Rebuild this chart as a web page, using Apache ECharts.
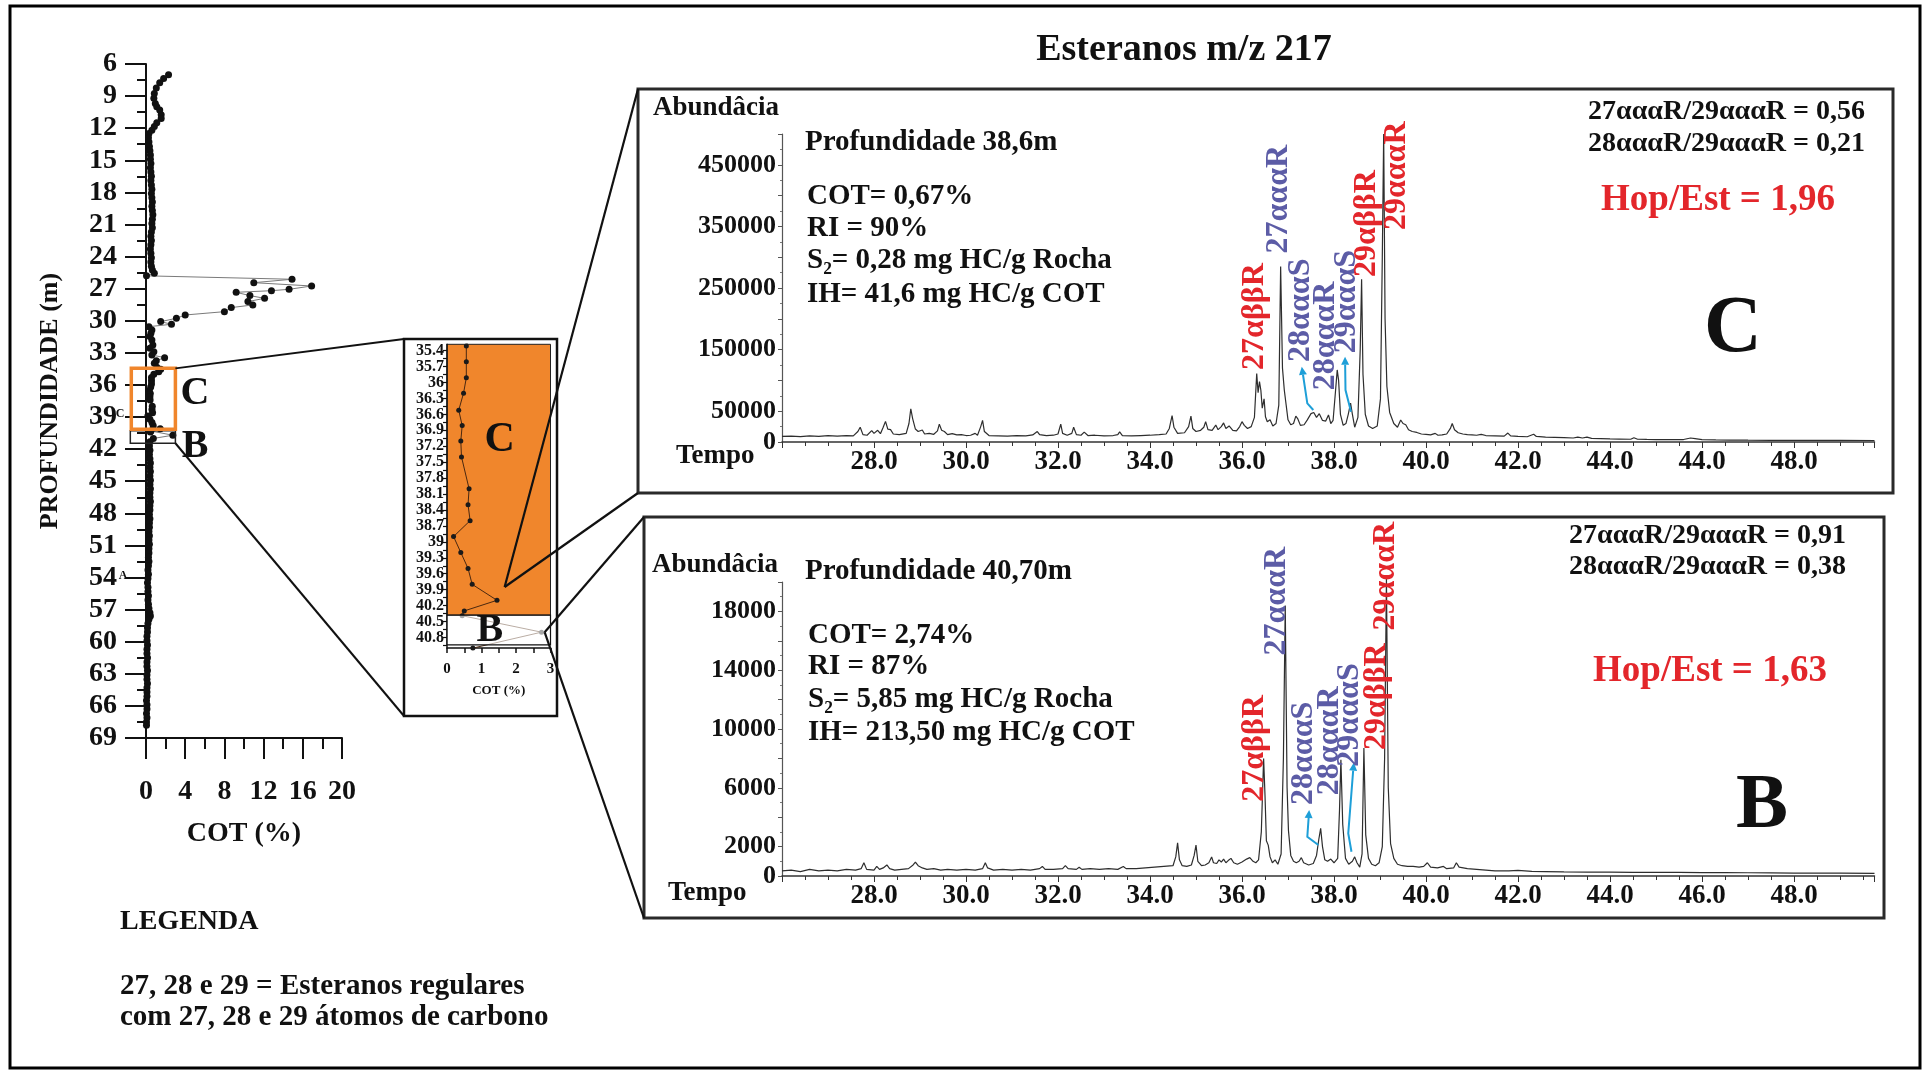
<!DOCTYPE html>
<html>
<head>
<meta charset="utf-8">
<script src="https://cdn.jsdelivr.net/npm/echarts@6/dist/echarts.min.js"></script>
<style>
  html, body { margin: 0; padding: 0; background: #fff; }
  #chart { width: 1927px; height: 1072px; }
</style>
</head>
<body>
<div id="chart"></div>
<script>
// ---------- well profile: total organic carbon vs depth ----------
const profileDepth = [
  7.0, 7.35, 7.75, 8.25, 8.75, 9.2, 9.7, 10.0, 10.3, 10.75, 11.1, 11.5, 11.85, 12.2,
  12.5, 12.9, 13.3, 13.7, 14.1, 14.5, 14.9, 15.3, 15.7, 16.1, 16.5, 16.9, 17.3, 17.7,
  18.1, 18.5, 18.9, 19.3, 19.7, 20.1, 20.5, 20.9, 21.3, 21.7, 22.1, 22.5, 22.9, 23.3,
  23.7, 24.1, 24.5, 24.9, 25.25, 25.55, 25.8,
  26.12, 26.44, 26.75, 27.06, 27.19, 27.34, 27.65, 27.9, 28.21, 28.52, 28.77, 29.15,
  29.46, 29.77, 30.08, 30.33,
  30.55, 30.86, 31.17, 31.48, 31.8, 32.26, 32.57, 32.9, 33.2, 33.45, 33.73, 33.98,
  34.35, 34.53, 34.76, 35.0,
  35.31, 35.61, 35.91, 36.2, 36.52, 36.81, 37.1, 37.4, 38.0, 38.3, 38.6, 38.9, 39.2,
  39.5, 39.8, 40.1, 40.3, 40.39, 40.7, 41.0,
  41.3, 41.7, 42.1, 42.5, 42.9, 43.3, 43.7, 44.1, 44.5, 44.9, 45.3, 45.7, 46.1, 46.5,
  46.9, 47.3, 47.7, 48.1, 48.5, 48.9, 49.3, 49.7, 50.1, 50.5, 50.9, 51.3, 51.7, 52.1,
  52.5, 52.9, 53.3, 53.7, 54.1, 54.5, 54.9, 55.3, 55.7, 56.1, 56.5, 56.9, 57.3, 57.6,
  57.9, 58.3, 58.7, 59.1, 59.5, 59.9, 60.3, 60.7, 61.1, 61.5, 61.9, 62.3, 62.7, 63.1,
  63.5, 63.9, 64.3, 64.7, 65.1, 65.5, 65.9, 66.3, 66.7, 67.1, 67.5, 67.8
];
const profileCot = [
  2.3, 1.8, 1.4, 1.05, 0.85, 0.8, 0.95, 1.1, 1.4, 1.55, 1.55, 1.1, 0.85, 0.6,
  0.3, 0.25, 0.3, 0.35, 0.4, 0.45, 0.45, 0.5, 0.45, 0.5, 0.55, 0.5, 0.55, 0.6,
  0.55, 0.6, 0.65, 0.6, 0.65, 0.7, 0.65, 0.6, 0.65, 0.55, 0.5, 0.55, 0.5, 0.45,
  0.5, 0.55, 0.5, 0.55, 0.65, 0.85, 0.05,
  14.9, 11.0, 16.9, 14.6, 12.8, 9.2, 10.6, 12.1, 10.4, 10.9, 8.7, 8.0,
  4.0, 3.1, 1.5, 2.6,
  0.3, 0.6, 0.5, 0.4, 0.6, 0.7, 0.4, 0.8, 0.6, 1.9, 1.05, 0.85,
  1.1, 1.5, 1.3, 0.8,
  0.56, 0.56, 0.56, 0.48, 0.34, 0.44, 0.4, 0.42, 0.64, 0.61, 0.67, 0.19, 0.4,
  0.61, 0.73, 1.45, 0.5, 0.44, 2.74, 0.75,
  0.4, 0.35, 0.4, 0.35, 0.4, 0.45, 0.4, 0.45, 0.4, 0.45, 0.4, 0.45, 0.4, 0.4,
  0.45, 0.4, 0.4, 0.35, 0.4, 0.35, 0.35, 0.3, 0.35, 0.3, 0.35, 0.3, 0.3, 0.25,
  0.3, 0.25, 0.2, 0.25, 0.2, 0.15, 0.2, 0.2, 0.25, 0.2, 0.25, 0.3, 0.4, 0.45,
  0.3, 0.2, 0.15, 0.15, 0.1, 0.1, 0.15, 0.1, 0.1, 0.15, 0.1, 0.1, 0.15, 0.1,
  0.1, 0.15, 0.1, 0.1, 0.1, 0.05, 0.1, 0.1, 0.05, 0.1, 0.05, 0.05
];
const insetDepthLabels = [35.4, 35.7, 36, 36.3, 36.6, 36.9, 37.2, 37.5, 37.8, 38.1, 38.4,
  38.7, 39, 39.3, 39.6, 39.9, 40.2, 40.5, 40.8];
const insetDepthMinor = [35.55, 35.85, 36.15, 36.45, 36.75, 37.05, 37.35, 37.65, 37.95, 38.25,
  38.55, 38.85, 39.15, 39.45, 39.75, 40.05, 40.35, 40.65, 40.95];

// ---------- m/z 217 chromatograms ----------
const timeTicks = [28, 30, 32, 34, 36, 38, 40, 42, 44, 46, 48];
const timeLabelsC = ['28.0', '30.0', '32.0', '34.0', '36.0', '38.0', '40.0', '42.0', '44.0', '44.0', '48.0'];
const timeLabelsB = ['28.0', '30.0', '32.0', '34.0', '36.0', '38.0', '40.0', '42.0', '44.0', '46.0', '48.0'];
const abundanceLabelsC = [0, 50000, 150000, 250000, 350000, 450000];
const abundanceLabelsB = [0, 2000, 6000, 10000, 14000, 18000];

// sample C, 38.6 m  [retention time (min), abundance]
const chromC = [
  [26.0, 9000], [26.2, 9500], [26.4, 8800], [26.6, 9800], [26.8, 9200], [27.0, 10200],
  [27.2, 9500], [27.4, 10500], [27.55, 10000], [27.65, 17000], [27.7, 24000], [27.76, 12000],
  [27.85, 11000], [27.95, 18500], [28.0, 14000], [28.08, 19000], [28.14, 13500], [28.2, 24000],
  [28.25, 33500], [28.3, 21000], [28.36, 20000], [28.42, 13000], [28.55, 12000], [28.7, 14000],
  [28.76, 30000], [28.8, 54000], [28.84, 38000], [28.9, 21000], [28.96, 17000], [29.05, 19500],
  [29.1, 13000], [29.2, 14000], [29.3, 12500], [29.38, 18000], [29.42, 29000], [29.47, 19000],
  [29.53, 17000], [29.6, 12000], [29.7, 13500], [29.8, 11500], [29.9, 12000], [30.0, 10500],
  [30.1, 11000], [30.2, 14000], [30.25, 11000], [30.32, 25000], [30.36, 35000], [30.4, 17000],
  [30.5, 10500], [30.7, 10000], [30.9, 9500], [31.1, 10500], [31.3, 10000], [31.45, 11500],
  [31.55, 17000], [31.6, 12000], [31.75, 10500], [31.9, 11000], [32.0, 13000], [32.06, 29000],
  [32.1, 14000], [32.2, 11000], [32.3, 14000], [32.34, 24000], [32.4, 12000], [32.5, 11000],
  [32.57, 16000], [32.65, 10500], [32.8, 11000], [33.0, 10000], [33.2, 10500], [33.3, 12000],
  [33.34, 16500], [33.4, 10500], [33.6, 10000], [33.8, 10500], [34.0, 11000], [34.2, 12000],
  [34.35, 13000], [34.42, 22000], [34.48, 43000], [34.52, 24000], [34.6, 14000], [34.75, 15000],
  [34.84, 25000], [34.89, 42000], [34.93, 22000], [35.0, 17000], [35.1, 19000], [35.17, 24000],
  [35.21, 33000], [35.26, 20000], [35.35, 19000], [35.43, 27500], [35.48, 20000], [35.55, 25000],
  [35.6, 31000], [35.65, 22000], [35.72, 26000], [35.8, 19000], [35.88, 18000], [35.95, 25000],
  [36.0, 33000], [36.05, 27000], [36.12, 22000], [36.2, 25000], [36.27, 40000], [36.32, 111000],
  [36.35, 80000], [36.38, 98000], [36.41, 84000], [36.44, 55000], [36.48, 70000], [36.51, 41000],
  [36.55, 33000], [36.61, 36000], [36.67, 26000], [36.74, 30000], [36.8, 60000], [36.84, 285000],
  [36.88, 120000], [36.92, 84000], [36.96, 60000], [37.0, 36000], [37.06, 28000], [37.12, 30000],
  [37.17, 42000], [37.21, 38000], [37.27, 27000], [37.35, 28000], [37.42, 36000], [37.5, 46000],
  [37.56, 48000], [37.62, 40000], [37.68, 46000], [37.75, 35000], [37.82, 34000], [37.88, 44000],
  [37.93, 30000], [37.98, 35000], [38.03, 80000], [38.07, 117000], [38.1, 100000], [38.14, 45000],
  [38.2, 27000], [38.26, 30000], [38.31, 45000], [38.36, 63000], [38.4, 45000], [38.45, 24000],
  [38.52, 40000], [38.57, 150000], [38.6, 264000], [38.63, 110000], [38.68, 45000], [38.75, 26000],
  [38.84, 22000], [38.94, 26000], [39.01, 70000], [39.05, 300000], [39.08, 500000], [39.11, 200000],
  [39.15, 90000], [39.21, 48000], [39.3, 30000], [39.38, 24000], [39.45, 35700], [39.5, 30000],
  [39.56, 28000], [39.62, 20000], [39.7, 17000], [39.8, 15500], [39.9, 13000], [40.0, 12500],
  [40.1, 11500], [40.2, 14000], [40.26, 11000], [40.35, 11500], [40.45, 13000], [40.53, 22000],
  [40.57, 30000], [40.62, 20000], [40.7, 15000], [40.8, 13000], [40.9, 12000], [41.0, 11500],
  [41.1, 11000], [41.2, 12500], [41.3, 10500], [41.5, 10000], [41.7, 9500], [41.78, 14500],
  [41.84, 10000], [42.0, 9000], [42.2, 8500], [42.34, 12500], [42.4, 9000], [42.6, 8000],
  [42.8, 7500], [43.0, 7000], [43.2, 6500], [43.3, 8000], [43.4, 6500], [43.5, 8000],
  [43.6, 6000], [43.8, 5500], [44.0, 5000], [44.2, 4800], [44.45, 4500], [44.52, 7000],
  [44.6, 4500], [44.8, 4200], [45.0, 4000], [45.3, 3800], [45.6, 4000], [45.75, 6500],
  [45.85, 5500], [46.0, 4000], [46.3, 3500], [46.6, 3200], [47.0, 3000], [47.5, 2800],
  [48.0, 2700], [48.5, 2600], [49.0, 2500], [49.75, 2400]
];

// sample B, 40.70 m  [retention time (min), abundance]
const chromB = [
  [26.0, 350], [26.2, 400], [26.4, 300], [26.6, 450], [26.8, 350], [27.0, 400], [27.2, 350],
  [27.4, 450], [27.6, 400], [27.72, 500], [27.78, 900], [27.84, 450], [28.0, 400], [28.06, 650],
  [28.12, 450], [28.2, 550], [28.28, 750], [28.34, 500], [28.45, 400], [28.6, 450], [28.75, 500],
  [28.85, 750], [28.9, 950], [28.96, 700], [29.05, 550], [29.15, 450], [29.3, 500], [29.45, 400],
  [29.6, 450], [29.8, 400], [30.0, 450], [30.2, 400], [30.36, 500], [30.42, 900], [30.47, 550],
  [30.6, 400], [30.8, 450], [31.0, 400], [31.2, 450], [31.4, 400], [31.6, 500], [31.66, 650],
  [31.72, 450], [31.9, 450], [32.1, 500], [32.16, 700], [32.22, 500], [32.4, 450], [32.46, 600],
  [32.52, 450], [32.7, 500], [32.9, 450], [33.1, 500], [33.3, 450], [33.42, 650], [33.48, 500],
  [33.7, 500], [33.9, 550], [34.1, 600], [34.3, 650], [34.5, 700], [34.56, 1300], [34.6, 2250],
  [34.64, 1100], [34.7, 700], [34.8, 650], [34.9, 750], [34.96, 1400], [35.0, 2100], [35.04, 1000],
  [35.12, 700], [35.2, 750], [35.28, 900], [35.34, 1300], [35.38, 900], [35.45, 850], [35.5, 1100],
  [35.55, 950], [35.6, 1150], [35.65, 900], [35.7, 1050], [35.76, 1200], [35.82, 900], [35.9, 800],
  [36.0, 950], [36.1, 1150], [36.17, 1250], [36.24, 1000], [36.3, 900], [36.36, 1100], [36.42, 3000],
  [36.47, 8000], [36.5, 5500], [36.53, 2400], [36.57, 2100], [36.61, 1300], [36.66, 900],
  [36.72, 1100], [36.78, 800], [36.85, 1500], [36.9, 8000], [36.94, 18400], [36.98, 6000],
  [37.01, 3100], [37.06, 1400], [37.12, 1000], [37.18, 900], [37.24, 1000], [37.29, 1250],
  [37.34, 900], [37.45, 750], [37.55, 850], [37.62, 1400], [37.67, 2500], [37.71, 3240],
  [37.75, 2000], [37.8, 1100], [37.86, 1000], [37.93, 1150], [38.0, 900], [38.08, 1200],
  [38.12, 4500], [38.15, 7900], [38.19, 3500], [38.25, 1200], [38.32, 800], [38.4, 1000],
  [38.45, 1300], [38.5, 900], [38.56, 600], [38.61, 1500], [38.65, 8700], [38.69, 2800],
  [38.75, 1200], [38.82, 800], [38.9, 700], [38.98, 900], [39.05, 2000], [39.1, 8000],
  [39.14, 20200], [39.18, 6000], [39.23, 2200], [39.3, 1200], [39.38, 800], [39.48, 700],
  [39.6, 650], [39.72, 650], [39.85, 600], [39.95, 650], [40.03, 900], [40.1, 600], [40.25, 550],
  [40.38, 650], [40.45, 500], [40.6, 550], [40.66, 900], [40.72, 600], [40.9, 500], [41.1, 450],
  [41.3, 400], [41.5, 350], [41.8, 350], [42.0, 380], [42.3, 320], [42.6, 300], [43.0, 280],
  [43.5, 270], [44.0, 260], [44.5, 250], [45.0, 250], [45.5, 240], [46.0, 230], [46.5, 230],
  [47.0, 220], [47.5, 210], [48.0, 200], [48.5, 200], [49.0, 190], [49.75, 180]
];

// peak identifications
const peakNames = ['27αββR', '27αααR', '28αααS', '28αααR', '29αααS', '29αββR', '29αααR'];
const peakIsRed = [true, false, false, false, false, true, true];

// ---------- annotation layout (axis units) ----------
const labelFootC = [[36.28, 117000], [36.79, 306000], [37.28, 130000], [37.83, 84000],
  [38.28, 144000], [38.71, 268000], [39.36, 344000]];
const labelFootB = [[36.28, 5050], [36.76, 15000], [37.35, 4830], [37.9, 5500],
  [38.35, 7440], [38.93, 8570], [39.13, 16700]];
const arrowsC = [
  [[37.30, 122000], [37.42, 62800], [37.55, 52000]],
  [[38.24, 138500], [38.25, 84400], [38.37, 49200]]
];
const arrowsB = [
  [[37.46, 4490], [37.42, 2670], [37.66, 2110]],
  [[38.43, 7710], [38.31, 2900], [38.38, 1650]]
];

const SERIF = '"Liberation Serif", "Times New Roman", serif';
const bold = (s) => 'bold ' + s + 'px ' + SERIF;
const RED = '#e3262b';
const PURPLE = '#5c5ca6';
const CYAN = '#1e9fd8';
const ORANGE = '#f0862c';

const profileData = profileDepth.map((d, i) => [profileCot[i], d]);

const chart = echarts.init(document.getElementById('chart'), null, { renderer: 'canvas' });

const chromX = (labels) => ({
  type: 'value', min: 26, max: 49.75, interval: 2,
  axisLine: { lineStyle: { color: '#333', width: 1.5 } },
  axisTick: { length: 6, lineStyle: { color: '#333' } },
  minorTick: { show: true, splitNumber: 4, length: 4, lineStyle: { color: '#333' } },
  splitLine: { show: false },
  axisLabel: {
    margin: 7, color: '#111', fontWeight: 'bold', fontSize: 27, fontFamily: SERIF,
    showMaxLabel: false,
    formatter: (v) => { const i = timeTicks.indexOf(v); return i >= 0 ? labels[i] : ''; }
  }
});
const chromY = (max, step, shown) => ({
  type: 'value', min: 0, max: max, interval: step,
  axisLine: { show: true, lineStyle: { color: '#555', width: 1.2 } },
  axisTick: { show: true, length: 4, lineStyle: { color: '#555' } },
  minorTick: { show: true, splitNumber: 2, length: 2, lineStyle: { color: '#777' } },
  splitLine: { show: false },
  axisLabel: {
    margin: 6, color: '#111', fontWeight: 'bold', fontSize: 26, fontFamily: SERIF,
    formatter: (v) => shown.indexOf(v) >= 0 ? String(v) : ''
  }
});

chart.setOption({
  animation: false,
  backgroundColor: '#ffffff',
  grid: [
    { left: 146, top: 64, width: 196, height: 674 },
    { left: 447, top: 344.3, width: 103.5, height: 303.8 },
    { left: 782, top: 134, width: 1092.5, height: 308 },
    { left: 782, top: 582, width: 1092.5, height: 294 }
  ],
  xAxis: [
    {
      gridIndex: 0, type: 'value', min: 0, max: 20, interval: 4,
      name: 'COT (%)', nameLocation: 'middle', nameGap: 82,
      nameTextStyle: { color: '#111', fontWeight: 'bold', fontSize: 28, fontFamily: SERIF },
      axisLine: { lineStyle: { color: '#111', width: 2 } },
      axisTick: { length: 21, lineStyle: { color: '#111', width: 2 } },
      minorTick: { show: true, splitNumber: 2, length: 11, lineStyle: { color: '#111', width: 2 } },
      splitLine: { show: false },
      axisLabel: { margin: 40, color: '#111', fontWeight: 'bold', fontSize: 28, fontFamily: SERIF }
    },
    {
      gridIndex: 1, type: 'value', min: 0, max: 3, interval: 1,
      name: 'COT (%)', nameLocation: 'middle', nameGap: 36,
      nameTextStyle: { color: '#111', fontWeight: 'bold', fontSize: 13, fontFamily: SERIF },
      axisLine: { lineStyle: { color: '#111', width: 1.5 } },
      axisTick: { length: 5, lineStyle: { color: '#111', width: 1.5 } },
      minorTick: { show: true, splitNumber: 2, length: 5, lineStyle: { color: '#111', width: 1.5 } },
      splitLine: { show: false },
      axisLabel: { margin: 14, color: '#111', fontWeight: 'bold', fontSize: 15, fontFamily: SERIF }
    },
    Object.assign({ gridIndex: 2 }, chromX(timeLabelsC)),
    Object.assign({ gridIndex: 3 }, chromX(timeLabelsB))
  ],
  yAxis: [
    {
      gridIndex: 0, type: 'value', inverse: true, min: 6, max: 69, interval: 3,
      name: 'PROFUNDIDADE (m)', nameLocation: 'middle', nameGap: 83, nameRotate: 90,
      nameTextStyle: { color: '#111', fontWeight: 'bold', fontSize: 26, fontFamily: SERIF },
      axisLine: { lineStyle: { color: '#111', width: 2 } },
      axisTick: { length: 21, lineStyle: { color: '#111', width: 2 } },
      minorTick: { show: true, splitNumber: 2, length: 9, lineStyle: { color: '#111', width: 2 } },
      splitLine: { show: false },
      axisLabel: { margin: 29, color: '#111', fontWeight: 'bold', fontSize: 28, fontFamily: SERIF }
    },
    {
      gridIndex: 1, type: 'value', inverse: true, min: 35.28, max: 41.0,
      axisLine: { lineStyle: { color: '#111', width: 1.5 } },
      axisTick: { length: 4, customValues: insetDepthLabels.concat(insetDepthMinor), lineStyle: { color: '#111', width: 1.2 } },
      splitLine: { show: false },
      axisLabel: {
        customValues: insetDepthLabels, margin: 3, color: '#111',
        showMinLabel: true, showMaxLabel: true, hideOverlap: false,
        fontWeight: 'bold', fontSize: 16, lineHeight: 14, fontFamily: SERIF,
        formatter: (v) => String(Math.round(v * 10) / 10)
      }
    },
    Object.assign({ gridIndex: 2 }, chromY(500000, 50000, abundanceLabelsC)),
    Object.assign({ gridIndex: 3 }, chromY(20000, 2000, abundanceLabelsB))
  ],
  series: [
    {
      type: 'line', xAxisIndex: 0, yAxisIndex: 0, data: profileData,
      symbol: 'circle', symbolSize: 7, showSymbol: true, showAllSymbol: true,
      itemStyle: { color: '#111' }, lineStyle: { color: '#7a7a7a', width: 1 }, z: 3
    },
    {
      type: 'line', xAxisIndex: 1, yAxisIndex: 1, data: profileData, clip: true,
      symbol: 'circle', symbolSize: 5, showSymbol: true, showAllSymbol: true,
      itemStyle: { color: '#1a1a1a' }, lineStyle: { color: '#4a2810', width: 1 }, z: 3
    },
    {
      type: 'line', xAxisIndex: 2, yAxisIndex: 2, data: chromC, clip: false,
      symbol: 'none', lineStyle: { color: '#2e2e2e', width: 1.2 }, z: 3
    },
    {
      type: 'line', xAxisIndex: 3, yAxisIndex: 3, data: chromB, clip: false,
      symbol: 'none', lineStyle: { color: '#2e2e2e', width: 1.2 }, z: 3
    }
  ]
});

// ---------- annotations placed through the axes ----------
const px = (g, p) => chart.convertToPixel({ gridIndex: g }, p);

function text(str, x, y, size, o) {
  o = o || {};
  const align = o.align || 'left';
  const valign = o.valign || 'middle';
  return {
    type: 'text', x: x, y: y, rotation: o.rotation || 0, silent: true, z: o.z || 20,
    style: {
      text: str, x: 0, y: 0, font: bold(size), fill: o.color || '#111',
      align: align, verticalAlign: valign, textAlign: align, textVerticalAlign: valign
    }
  };
}
function rectFromData(g, a, b, style, z) {
  const p1 = px(g, a), p2 = px(g, b);
  return {
    type: 'rect', silent: true, z: z,
    shape: { x: Math.min(p1[0], p2[0]), y: Math.min(p1[1], p2[1]),
             width: Math.abs(p2[0] - p1[0]), height: Math.abs(p2[1] - p1[1]) },
    style: style
  };
}
function line(p1, p2, w, color) {
  return { type: 'line', silent: true, z: 15,
    shape: { x1: p1[0], y1: p1[1], x2: p2[0], y2: p2[1] },
    style: { stroke: color || '#111', lineWidth: w || 2 } };
}
function arrow(g, pts) {
  const p = pts.map((q) => px(g, q));
  const tip = p[0], from = p[1];
  const ang = Math.atan2(tip[1] - from[1], tip[0] - from[0]);
  const L = 8, W = 4;
  const bx = tip[0] - L * Math.cos(ang), by = tip[1] - L * Math.sin(ang);
  const nx = -Math.sin(ang) * W, ny = Math.cos(ang) * W;
  return [
    { type: 'polyline', silent: true, z: 16, shape: { points: [[bx, by]].concat(p.slice(1)) },
      style: { stroke: CYAN, lineWidth: 2, fill: 'none' } },
    { type: 'polygon', silent: true, z: 16,
      shape: { points: [tip, [bx + nx, by + ny], [bx - nx, by - ny]] },
      style: { fill: CYAN } }
  ];
}

const els = [];

// outer frame and title
els.push({ type: 'rect', silent: true, z: 1, shape: { x: 10, y: 6, width: 1910, height: 1062 },
  style: { fill: 'none', stroke: '#000', lineWidth: 3 } });
els.push(text('Esteranos m/z 217', 1184, 50, 38, { align: 'center' }));

// profile: highlighted intervals C and B
const cTL = px(0, [-1.5, 34.45]), cBR = px(0, [3.0, 40.15]);
const bTL = px(0, [-1.6, 40.27]), bBR = px(0, [3.0, 41.45]);
els.push(rectFromData(0, [-1.6, 40.27], [3.0, 41.45], { fill: 'none', stroke: '#222', lineWidth: 1.5 }, 12));
els.push(rectFromData(0, [-1.5, 34.45], [3.0, 40.15], { fill: 'none', stroke: ORANGE, lineWidth: 3.5 }, 13));
let p = px(0, [5.0, 36.85]); els.push(text('C', p[0], p[1], 40, { align: 'center' }));
p = px(0, [5.0, 41.8]); els.push(text('B', p[0], p[1], 40, { align: 'center' }));
els.push(text('C', 120, 414, 12, { align: 'center' }));
els.push(text('A', 123, 576, 12, { align: 'center' }));

// inset: zoom of the 35.3 – 41 m interval
els.push({ type: 'rect', silent: true, z: 14, shape: { x: 404, y: 339, width: 153, height: 377 },
  style: { fill: 'none', stroke: '#111', lineWidth: 2.5 } });
els.push(rectFromData(1, [0, 35.28], [3, 40.38], { fill: ORANGE, stroke: '#222', lineWidth: 1 }, -5));
els.push(rectFromData(1, [0, 40.38], [3, 40.94], { fill: 'rgba(255,255,255,0.62)', stroke: '#111', lineWidth: 1.2 }, 10));
p = px(1, [1.53, 37.08]); els.push(text('C', p[0], p[1], 42, { align: 'center' }));
p = px(1, [1.24, 40.68]); els.push(text('B', p[0], p[1], 40, { align: 'center', z: 11 }));

// connectors
els.push(line([cBR[0], cTL[1]], [404, 339], 2));
els.push(line([bBR[0], bBR[1]], [404, 716], 2));
const anchorC = px(1, [1.67, 39.85]);
const anchorB = px(1, [2.83, 40.7]);
els.push(line(anchorC, [638, 89], 2.2));
els.push(line(anchorC, [638, 493], 2.2));
els.push(line(anchorB, [644, 517], 2.2));
els.push(line(anchorB, [644, 918], 2.2));

// chromatogram frames
els.push({ type: 'rect', silent: true, z: 14, shape: { x: 638, y: 89, width: 1255, height: 404 },
  style: { fill: 'none', stroke: '#2a2a2a', lineWidth: 3 } });
els.push({ type: 'rect', silent: true, z: 14, shape: { x: 644, y: 517, width: 1240, height: 401 },
  style: { fill: 'none', stroke: '#2a2a2a', lineWidth: 3 } });

// chromatogram C texts
els.push(text('Abundâcia', 653, 108, 27));
els.push(text('Tempo', 676, 456, 27));
els.push(text('Profundidade 38,6m', 805, 143, 29));
els.push(text('COT= 0,67%', 807, 197, 29));
els.push(text('RI = 90%', 807, 229, 29));
els.push(text('S₂= 0,28 mg HC/g Rocha', 807, 261, 29));
els.push(text('IH= 41,6 mg HC/g COT', 807, 295, 29));
els.push(text('27αααR/29αααR = 0,56', 1865, 112, 28, { align: 'right' }));
els.push(text('28αααR/29αααR = 0,21', 1865, 144, 28, { align: 'right' }));
els.push(text('Hop/Est = 1,96', 1718, 200, 37, { align: 'center', color: RED }));
els.push(text('C', 1733, 330, 80, { align: 'center' }));

// chromatogram B texts
els.push(text('Abundâcia', 652, 565, 27));
els.push(text('Tempo', 668, 893, 27));
els.push(text('Profundidade 40,70m', 805, 572, 29));
els.push(text('COT= 2,74%', 808, 636, 29));
els.push(text('RI = 87%', 808, 667, 29));
els.push(text('S₂= 5,85 mg HC/g Rocha', 808, 700, 29));
els.push(text('IH= 213,50 mg HC/g COT', 808, 733, 29));
els.push(text('27αααR/29αααR = 0,91', 1846, 536, 28, { align: 'right' }));
els.push(text('28αααR/29αααR = 0,38', 1846, 567, 28, { align: 'right' }));
els.push(text('Hop/Est = 1,63', 1710, 671, 37, { align: 'center', color: RED }));
els.push(text('B', 1762, 807, 78, { align: 'center' }));

// peak labels (vertical, reading upwards)
[[2, labelFootC], [3, labelFootB]].forEach(([g, feet]) => {
  feet.forEach((f, i) => {
    const q = px(g, f);
    els.push(text(peakNames[i], q[0], q[1], 32,
      { rotation: Math.PI / 2, align: 'left', valign: 'middle', color: peakIsRed[i] ? RED : PURPLE }));
  });
});
arrowsC.forEach((a) => arrow(2, a).forEach((e) => els.push(e)));
arrowsB.forEach((a) => arrow(3, a).forEach((e) => els.push(e)));

// legend
els.push(text('LEGENDA', 120, 922, 28));
els.push(text('27, 28 e 29 = Esteranos regulares', 120, 987, 29));
els.push(text('com 27, 28 e 29 átomos de carbono', 120, 1018, 29));

chart.setOption({ graphic: { elements: els } });
</script>
</body>
</html>
